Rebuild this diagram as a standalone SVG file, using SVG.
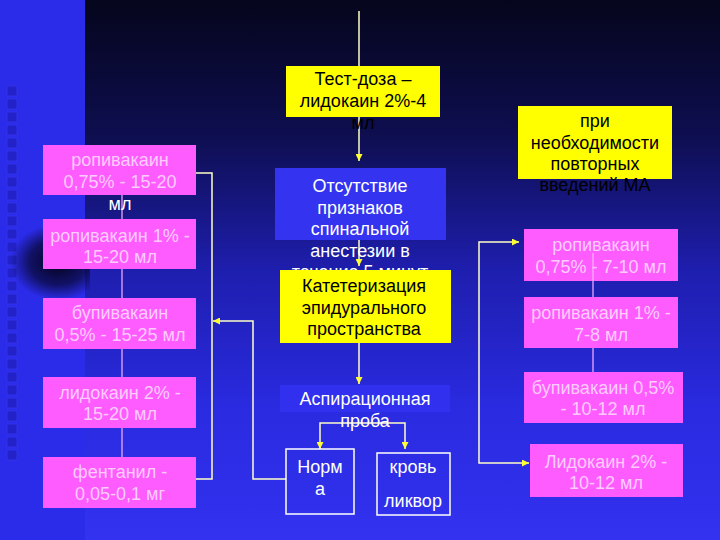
<svg xmlns="http://www.w3.org/2000/svg" width="720" height="540" viewBox="0 0 720 540">
<defs>
<linearGradient id="bg" x1="0" y1="0" x2="0" y2="1">
<stop offset="0" stop-color="#05051c"/>
<stop offset="0.25" stop-color="#0e0e50"/>
<stop offset="0.5" stop-color="#1e1eae"/>
<stop offset="0.75" stop-color="#2a2ae0"/>
<stop offset="1" stop-color="#3232f0"/>
</linearGradient>
<radialGradient id="blob" cx="0.5" cy="0.5" r="0.5">
<stop offset="0" stop-color="#000010" stop-opacity="0.95"/>
<stop offset="0.6" stop-color="#000010" stop-opacity="0.6"/>
<stop offset="1" stop-color="#000010" stop-opacity="0"/>
</radialGradient>
<clipPath id="clipStrip"><rect x="0" y="0" width="90" height="540"/></clipPath>
<marker id="ah" viewBox="0 0 10 10" refX="10" refY="5" markerWidth="7" markerHeight="7" markerUnits="userSpaceOnUse" orient="auto-start-reverse">
<path d="M0,0 L10,5 L0,10 z" fill="#ffff33"/>
</marker>
<style>
.t{font-family:"Liberation Sans",Arial,sans-serif;font-size:18px;text-anchor:middle}
.pk{fill:#ff5cff}
.pt{fill:#ffccff}
.yl{fill:#ffff00}
.bk{fill:#000000}
.wt{fill:#ffffff}
.ln{stroke:#ffffc8;stroke-width:1.5;fill:none}
.pl{stroke:#ffb0ff;stroke-width:1.2;fill:none}
.ob{fill:none;stroke:#ffffff;stroke-width:1.5}
.sq{fill:#2222c8;stroke:#3636f0;stroke-width:0.8}
</style>
</defs>
<rect x="0" y="0" width="720" height="540" fill="url(#bg)"/>
<rect x="0" y="0" width="85" height="540" fill="#2b2bea"/>
<g id="squares">
<rect class="sq" x="7" y="86" width="10" height="10"/><rect class="sq" x="7" y="99" width="10" height="10"/><rect class="sq" x="7" y="112" width="10" height="10"/><rect class="sq" x="7" y="125" width="10" height="10"/><rect class="sq" x="7" y="138" width="10" height="10"/><rect class="sq" x="7" y="151" width="10" height="10"/><rect class="sq" x="7" y="164" width="10" height="10"/><rect class="sq" x="7" y="177" width="10" height="10"/><rect class="sq" x="7" y="190" width="10" height="10"/><rect class="sq" x="7" y="203" width="10" height="10"/><rect class="sq" x="7" y="216" width="10" height="10"/><rect class="sq" x="7" y="229" width="10" height="10"/><rect class="sq" x="7" y="242" width="10" height="10"/><rect class="sq" x="7" y="255" width="10" height="10"/><rect class="sq" x="7" y="268" width="10" height="10"/><rect class="sq" x="7" y="281" width="10" height="10"/><rect class="sq" x="7" y="294" width="10" height="10"/><rect class="sq" x="7" y="307" width="10" height="10"/><rect class="sq" x="7" y="320" width="10" height="10"/><rect class="sq" x="7" y="333" width="10" height="10"/><rect class="sq" x="7" y="346" width="10" height="10"/><rect class="sq" x="7" y="359" width="10" height="10"/><rect class="sq" x="7" y="372" width="10" height="10"/><rect class="sq" x="7" y="385" width="10" height="10"/><rect class="sq" x="7" y="398" width="10" height="10"/><rect class="sq" x="7" y="411" width="10" height="10"/><rect class="sq" x="7" y="424" width="10" height="10"/><rect class="sq" x="7" y="437" width="10" height="10"/><rect class="sq" x="7" y="450" width="10" height="10"/>
</g>
<ellipse cx="58" cy="262" rx="48" ry="38" fill="url(#blob)" clip-path="url(#clipStrip)"/>

<g id="connectors">
<line class="ln" x1="359" y1="11" x2="359" y2="66"/>
<line class="ln" x1="359" y1="117" x2="359" y2="161" marker-end="url(#ah)"/>
<line class="ln" x1="359" y1="343" x2="359" y2="384" marker-end="url(#ah)"/>
<polyline class="ln" points="320,449 320,423 405,423 405,449" marker-start="url(#ah)" marker-end="url(#ah)"/>
<polyline class="ln" points="196,173 212,173 212,479 196,479"/>
<polyline class="ln" points="286,479 253,479 253,321 213,321" marker-end="url(#ah)"/>
<polyline class="ln" points="519,242 479,242 479,463 529,463" marker-start="url(#ah)" marker-end="url(#ah)"/>
<line class="pl" x1="122" y1="195" x2="122" y2="219"/>
<line class="pl" x1="122" y1="269" x2="122" y2="298"/>
<line class="pl" x1="122" y1="349" x2="122" y2="377"/>
<line class="pl" x1="122" y1="428" x2="122" y2="457"/>
<line class="pl" x1="593" y1="348" x2="593" y2="372"/>
</g>

<g id="test-dose">
<rect class="yl" x="286" y="66" width="154" height="51"/>
<text class="t bk" x="363" y="85">Тест-доза –</text>
<text class="t bk" x="363" y="107">лидокаин 2%-4</text>
<text class="t bk" x="363" y="129">мл</text>
</g>

<g id="no-spinal">
<rect x="275" y="168" width="171" height="72" fill="#3434f0"/>
<text class="t wt" x="360" y="192">Отсутствие</text>
<text class="t wt" x="360" y="213.5">признаков</text>
<text class="t wt" x="360" y="235">спинальной</text>
<text class="t wt" x="360" y="256.5">анестезии в</text>
<text class="t wt" x="360" y="278">течение 5 минут</text>
</g>
<line class="ln" x1="359" y1="240" x2="359" y2="266" marker-end="url(#ah)"/>

<g id="catheter">
<rect class="yl" x="280" y="270" width="171" height="73"/>
<text class="t bk" x="364" y="292">Катетеризация</text>
<text class="t bk" x="364" y="313.5">эпидурального</text>
<text class="t bk" x="364" y="335">пространства</text>
</g>

<g id="aspiration">
<rect x="280" y="385" width="170" height="27" fill="#3030ee"/>
<text class="t wt" x="365" y="405">Аспирационная</text>
<text class="t wt" x="365" y="427">проба</text>
</g>

<g id="norma">
<rect class="ob" x="286" y="449" width="68" height="65"/>
<text class="t wt" x="320" y="473">Норм</text>
<text class="t wt" x="320" y="495">а</text>
</g>

<g id="blood">
<rect class="ob" x="377" y="453" width="73" height="62"/>
<text class="t wt" x="413" y="473">кровь</text>
<text class="t wt" x="413" y="507">ликвор</text>
</g>

<g id="l1">
<rect class="pk" x="43" y="145" width="153" height="50"/>
<text class="t pt" x="120" y="166">ропивакаин</text>
<text class="t pt" x="120" y="188">0,75% - 15-20</text>
<text class="t wt" x="120" y="210">мл</text>
</g>
<g id="l2">
<rect class="pk" x="43" y="219" width="153" height="50"/>
<text class="t pt" x="120" y="242">ропивакаин 1% -</text>
<text class="t pt" x="120" y="263">15-20 мл</text>
</g>
<g id="l3">
<rect class="pk" x="43" y="298" width="153" height="51"/>
<text class="t pt" x="120" y="319">бупивакаин</text>
<text class="t pt" x="120" y="341">0,5% - 15-25 мл</text>
</g>
<g id="l4">
<rect class="pk" x="43" y="377" width="153" height="51"/>
<text class="t pt" x="120" y="399">лидокаин 2% -</text>
<text class="t pt" x="120" y="420">15-20 мл</text>
</g>
<g id="l5">
<rect class="pk" x="43" y="457" width="153" height="51"/>
<text class="t pt" x="120" y="478">фентанил -</text>
<text class="t pt" x="120" y="500">0,05-0,1 мг</text>
</g>

<g id="repeat">
<rect class="yl" x="518" y="106" width="154" height="73"/>
<text class="t bk" x="595" y="127">при</text>
<text class="t bk" x="595" y="149">необходимости</text>
<text class="t bk" x="595" y="170">повторных</text>
<text class="t bk" x="595" y="191">введений МА</text>
</g>
<g id="r1">
<rect class="pk" x="524" y="229" width="154" height="52"/>
<text class="t pt" x="601" y="251">ропивакаин</text>
<text class="t pt" x="601" y="273">0,75% - 7-10 мл</text>
</g>
<line class="pl" x1="593" y1="253" x2="593" y2="297"/>
<g id="r2">
<rect class="pk" x="524" y="297" width="154" height="51"/>
<text class="t pt" x="601" y="319">ропивакаин 1% -</text>
<text class="t pt" x="601" y="341">7-8 мл</text>
</g>
<g id="r3">
<rect class="pk" x="524" y="372" width="159" height="51"/>
<text class="t pt" x="603" y="394">бупивакаин 0,5%</text>
<text class="t pt" x="603" y="415">- 10-12 мл</text>
</g>
<g id="r4">
<rect class="pk" x="530" y="444" width="153" height="53"/>
<text class="t pt" x="606" y="468">Лидокаин 2% -</text>
<text class="t pt" x="606" y="489">10-12 мл</text>
</g>
</svg>
